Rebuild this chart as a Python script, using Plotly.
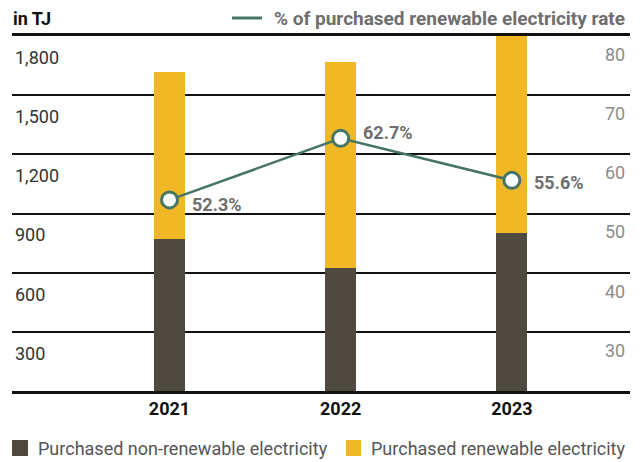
import plotly.graph_objects as go

years = ["2021", "2022", "2023"]
non_renewable = [771, 622, 800]
renewable = [845, 1046, 1002]
renewable_rate = [52.3, 62.7, 55.6]
rate_labels = ["52.3%", "62.7%", "55.6%"]

DARK = "#4e4a3f"
YELLOW = "#f1b825"
GREEN = "#477565"
FONT = "Roboto"

# page body has an 8px margin, so the figure is 8px smaller than the window
OFF = 8
W, H = 641 - OFF, 462 - OFF
L, R, T, B = 4, 11, 28, 71


# screen pixel -> paper coordinates (paper = plot area)
def px(x):
    return (x - OFF - L) / (W - L - R)


def py(y):
    return (H - B - (y - OFF)) / (H - T - B)


fig = go.Figure()

fig.add_trace(go.Bar(
    x=years, y=non_renewable, name="Purchased non-renewable electricity",
    marker=dict(color=DARK, line=dict(width=0)), width=0.18,
))
fig.add_trace(go.Bar(
    x=years, y=renewable, name="Purchased renewable electricity",
    marker=dict(color=YELLOW, line=dict(width=0)), width=0.18,
))
fig.add_trace(go.Scatter(
    x=years, y=renewable_rate, yaxis="y2", name="% of purchased renewable electricity rate",
    mode="lines+markers",
    line=dict(color=GREEN, width=2.5),
    marker=dict(size=16, color="white", line=dict(color=GREEN, width=3)),
    cliponaxis=False,
))

# value labels next to the line markers (category axis -> index positions)
label_yshift = [-5, 6, -2]
annotations = []
for i in range(len(years)):
    annotations.append(dict(
        x=i, y=renewable_rate[i], xref="x", yref="y2", text=rate_labels[i],
        showarrow=False, xanchor="left", yanchor="middle",
        xshift=20, yshift=label_yshift[i],
        font=dict(size=18, color="#6e6e6e", weight="bold"),
    ))

# header + legends drawn as text and shapes
annotations += [
    dict(text="in TJ", x=px(11), y=py(18),
         font=dict(size=18, color="#111", weight="bold")),
    dict(text="% of purchased renewable electricity rate", x=px(272), y=py(18),
         font=dict(size=19, color="#6e6e6e", weight="bold")),
    dict(text="Purchased non-renewable electricity", x=px(36), y=py(448),
         font=dict(size=18, color="#555")),
    dict(text="Purchased renewable electricity", x=px(369), y=py(448),
         font=dict(size=18, color="#555")),
]
for a in annotations[-4:]:
    a.update(xref="paper", yref="paper", xanchor="left", yanchor="middle", showarrow=False)

shapes = [
    dict(type="line", xref="paper", yref="paper", x0=px(232), x1=px(262),
         y0=py(18), y1=py(18), line=dict(color=GREEN, width=3)),
    dict(type="rect", xref="paper", yref="paper", x0=px(12), x1=px(28),
         y0=py(456), y1=py(440), fillcolor=DARK, line=dict(width=0)),
    dict(type="rect", xref="paper", yref="paper", x0=px(346), x1=px(361),
         y0=py(456), y1=py(440), fillcolor=YELLOW, line=dict(width=0)),
]

fig.update_layout(
    width=W, height=H,
    margin=dict(l=L, r=R, t=T, b=B),
    barmode="stack",
    showlegend=False,
    plot_bgcolor="white", paper_bgcolor="white",
    font=dict(family=FONT),
    xaxis=dict(
        type="category",
        range=[-0.92, 2.69], showgrid=False, showline=True, mirror=True,
        linecolor="#111", linewidth=2.5, ticks="",
        tickfont=dict(size=18, color="#111", weight="bold"),
    ),
    yaxis=dict(
        range=[0, 1800], tickvals=[300, 600, 900, 1200, 1500, 1800],
        tickformat=",", showgrid=True, gridcolor="#111", gridwidth=1.5,
        zeroline=False, showline=False, ticks="",
        ticklabelposition="inside bottom", ticklabelshift=9,
        tickfont=dict(size=18, color="#333"),
    ),
    yaxis2=dict(
        range=[20, 80], tickvals=[30, 40, 50, 60, 70, 80], overlaying="y",
        side="right", anchor="free", position=px(604),
        showgrid=False, zeroline=False, showline=False, ticks="",
        ticklabelposition="outside bottom", ticklabelshift=6,
        tickfont=dict(size=18, color="#8c8c8c"),
    ),
    annotations=annotations,
    shapes=shapes,
)

fig.write_html("out.html")
